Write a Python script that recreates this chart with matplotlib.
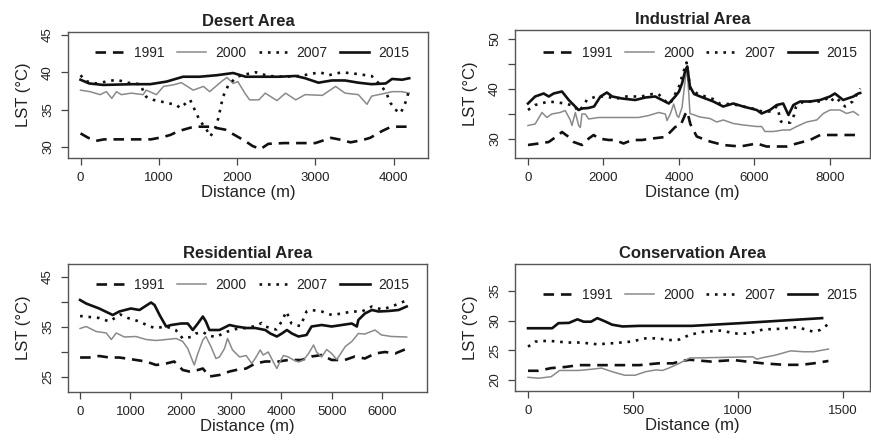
import matplotlib
matplotlib.use("Agg")
import matplotlib.pyplot as plt

plt.rcParams['font.family'] = ['Liberation Sans', 'DejaVu Sans']

# ---------------- data ----------------
years = ["1991", "2000", "2007", "2015"]

# Desert Area
D91_d = [0,100,200,300,500,700,900,1050,1150,1250,1350,1450,1650,1850,2000,2100,2200,2300,2400,2600,2800,3000,3200,3300,3450,3600,3700,3850,3950,4050,4200]
D91_t = [31.8,31.2,30.8,31.0,31.0,31.0,31.0,31.3,31.6,32.1,32.4,32.7,32.7,32.3,31.4,30.8,30.1,29.7,30.4,30.5,30.5,30.5,31.2,31.0,30.6,30.9,31.2,32.1,32.6,32.7,32.7]
D00_d = [0,120,250,330,400,460,520,650,800,840,970,1060,1180,1290,1440,1570,1650,1800,1870,1950,2010,2100,2160,2280,2360,2510,2620,2750,2870,3090,3260,3380,3550,3660,3720,3900,3980,4100,4200]
D00_t = [37.6,37.4,37.0,37.4,36.5,37.4,37.0,37.2,37.0,37.6,37.0,38.1,38.3,38.6,37.6,38.1,37.4,38.75,39.3,38.5,38.75,37.2,36.3,36.3,37.2,36.2,37.2,36.3,37.0,36.9,38.1,37.2,37.0,35.7,36.8,37.2,37.4,37.4,37.2]
D07_d = [0,70,200,460,600,760,840,930,1060,1230,1270,1400,1520,1610,1660,1720,1760,1820,1890,2000,2100,2240,2400,2600,2800,3060,3170,3340,3510,3720,3830,3900,3960,4020,4090,4150,4200]
D07_t = [39.6,38.8,38.5,39.0,38.6,38.4,36.7,36.3,36.0,35.6,35.2,36.3,33.6,32.3,31.4,32.5,33.8,36.7,38.3,39.4,39.7,40.0,39.5,39.4,39.5,40.0,39.6,40.0,39.8,39.5,38.3,37.4,35.9,35.0,34.5,35.9,37.6]
D15_d = [0,110,290,670,890,1100,1310,1520,1740,1950,2110,2530,2750,2870,3040,3210,3380,3550,3720,3900,3980,4110,4200]
D15_t = [39.0,38.5,38.3,38.4,38.4,38.75,39.4,39.4,39.6,39.9,39.4,39.4,39.5,39.2,38.6,38.9,38.9,38.6,38.4,38.5,39.1,39.0,39.2]

# Industrial Area
I91_d = [0,280,550,810,900,1080,1210,1430,1610,1740,1870,2140,2310,2530,2760,3020,3290,3640,3900,4040,4170,4220,4300,4470,4820,5170,5620,6060,6320,6590,6850,7120,7470,7740,7910,8260,8800]
I91_t = [28.8,29.1,29.4,30.8,31.4,30.4,29.4,28.8,30.1,30.8,30.1,29.8,29.8,29.1,29.8,29.8,30.1,30.4,32.4,32.7,35.0,35.5,33.0,30.5,29.5,28.8,28.5,29.1,28.5,28.5,28.5,29.1,29.8,30.8,30.8,30.8,30.8]
I00_d = [0,190,370,500,630,850,985,1120,1165,1254,1342,1386,1430,1518,1607,1872,2225,2578,2931,3196,3461,3638,3682,3770,3859,3947,3991,4080,4168,4212,4260,4291,4556,4821,4998,5174,5439,5704,6057,6190,6278,6500,6764,6940,7117,7382,7647,7823,8000,8264,8441,8617,8750]
I00_t = [32.7,33.0,35.3,34.3,35.0,35.3,35.7,33.8,32.7,35.3,32.7,32.3,35.0,35.0,34.0,34.3,34.3,34.3,34.3,34.7,35.3,35.0,33.7,35.0,37.0,34.7,34.3,36.3,42.0,44.0,39.0,35.1,34.4,34.1,33.4,33.8,33.1,32.8,32.5,32.5,31.5,31.5,31.8,31.8,32.5,33.4,33.8,35.1,35.8,35.8,35.1,35.5,34.8]
I07_d = [0,190,550,1000,1250,1320,1400,1560,1800,2100,2300,2600,3000,3300,3450,3600,3700,3800,3900,4000,4100,4200,4300,4500,4700,4900,5100,5400,5700,6000,6200,6400,6600,6700,6800,6950,7050,7100,7300,7600,7800,8000,8100,8200,8400,8600,8800]
I07_t = [35.8,36.8,37.5,37.1,36.5,35.5,36.0,37.8,38.5,38.5,38.0,38.5,38.5,39.0,39.0,38.0,37.0,37.5,39.0,40.5,43.0,45.3,40.0,39.0,38.5,38.0,37.0,37.0,36.5,36.0,35.5,35.5,36.5,33.5,33.2,33.3,34.8,36.5,37.5,37.5,37.5,38.5,37.5,38.0,36.5,37.5,40.1]
I15_d = [0,190,415,550,680,900,1080,1210,1340,1430,1600,1750,1920,2090,2230,2490,2840,3110,3370,3550,3730,3900,4000,4080,4170,4220,4290,4400,4560,4910,5170,5440,5700,6060,6190,6410,6590,6760,6900,7030,7210,7470,7740,8000,8130,8350,8620,8750,8800]
I15_t = [37.1,38.5,39.1,38.5,39.1,39.5,37.8,36.8,35.8,36.1,36.2,36.5,38.5,39.3,38.5,38.1,37.8,38.3,38.5,37.8,37.1,38.5,39.5,41.1,43.8,44.5,40.5,39.0,38.5,37.5,36.5,37.1,36.5,35.8,35.1,35.8,36.8,37.1,34.8,36.8,37.5,37.5,37.8,38.5,39.1,37.8,38.5,39.1,39.2]

# Residential Area
R91_d = [0,180,380,580,780,1050,1310,1510,1710,1870,2040,2170,2340,2440,2570,2770,2970,3100,3300,3480,3680,3940,4140,4400,4600,4800,5000,5260,5460,5660,5860,6060,6260,6500]
R91_t = [28.9,28.9,29.2,28.9,28.9,28.5,28.1,27.4,27.7,28.1,26.4,26.1,26.4,26.7,25.1,25.4,26.1,26.4,26.7,27.7,28.1,28.1,28.4,28.4,29.1,29.4,28.4,28.4,29.1,28.7,29.7,30.0,29.7,30.7]
R00_d = [0,120,320,520,620,720,880,1110,1310,1510,1710,1910,2040,2140,2240,2270,2340,2440,2500,2600,2700,2770,2870,2930,3030,3170,3300,3410,3480,3580,3640,3740,3840,3910,3970,4040,4140,4240,4340,4440,4540,4640,4700,4800,4900,5000,5100,5200,5270,5400,5530,5660,5860,5990,6190,6490]
R00_t = [34.7,35.1,34.1,33.8,32.5,33.8,33.0,33.1,32.5,32.3,32.5,32.7,32.1,30.7,28.1,27.4,29.7,32.4,33.1,31.1,28.7,29.0,30.7,32.7,30.4,29.0,29.3,27.7,28.7,30.4,29.4,30.0,28.0,26.7,28.0,29.3,29.0,28.4,28.0,28.4,29.7,31.4,30.0,29.0,30.5,29.7,28.5,30.0,31.1,32.1,33.7,33.6,34.4,33.4,33.1,33.0]
R07_d = [0,190,380,580,800,950,1180,1380,1510,1710,1900,2040,2200,2300,2440,2550,2700,2900,3100,3300,3480,3610,3680,3780,3900,4000,4100,4200,4270,4380,4500,4600,4800,5000,5200,5400,5600,5800,6000,6190,6390,6520]
R07_t = [37.2,37.0,36.8,36.1,37.5,36.8,36.1,35.1,34.8,35.1,34.4,32.7,33.0,33.7,34.0,33.3,33.0,34.0,34.6,34.8,35.2,35.8,35.1,34.8,34.5,36.0,38.1,35.7,35.4,35.2,38.1,38.4,38.1,37.4,37.7,38.1,38.1,39.1,38.5,39.1,39.9,40.5]
R15_d = [0,120,380,650,780,1010,1180,1410,1480,1580,1710,1810,2010,2140,2240,2340,2440,2500,2570,2770,2970,3100,3300,3480,3680,3780,3910,4010,4110,4210,4340,4500,4600,4800,5000,5200,5400,5500,5530,5660,5800,5930,6130,6330,6490]
R15_t = [40.4,39.7,38.7,37.4,38.1,38.7,38.4,39.9,39.4,37.4,35.1,35.4,35.7,35.7,34.4,35.7,37.1,36.1,34.4,34.4,35.4,35.1,34.8,34.8,34.4,33.7,33.1,33.7,34.4,33.7,33.1,33.4,35.1,35.4,35.1,35.4,35.7,35.1,36.4,37.7,38.4,38.1,38.2,38.4,39.1]

# Conservation Area
C91_d = [0,50,110,180,240,400,530,620,690,730,770,870,980,1040,1120,1220,1300,1360,1430]
C91_t = [21.55,21.55,22.0,22.2,22.5,22.5,22.5,22.8,22.8,23.2,23.4,23.1,23.35,23.1,22.8,22.55,22.55,22.8,23.2]
C00_d = [0,50,110,150,240,300,350,400,460,510,560,610,640,670,720,770,930,1070,1090,1110,1180,1250,1310,1360,1430]
C00_t = [20.45,20.3,20.55,21.6,21.6,21.8,22.0,21.4,20.8,20.8,21.4,21.7,21.6,22.0,22.8,23.7,23.8,23.9,23.5,23.7,24.2,24.9,24.75,24.75,25.2]
C07_d = [0,35,95,140,190,250,330,410,490,560,620,670,720,770,835,915,995,1050,1120,1200,1280,1320,1360,1390,1430]
C07_t = [25.6,26.45,26.6,26.45,26.3,26.3,26.0,26.2,26.45,27.0,27.0,26.7,26.8,27.6,28.1,28.3,27.8,27.8,28.5,28.6,28.9,28.5,28.1,28.4,29.4]
C15_d = [0,115,145,195,235,265,300,330,370,400,450,530,640,780,1010,1170,1400]
C15_t = [28.7,28.7,29.55,29.6,30.2,29.8,29.8,30.4,29.8,29.3,29.0,29.1,29.1,29.1,29.55,29.9,30.4]

titles = ["Desert Area", "Industrial Area", "Residential Area", "Conservation Area"]
x_ticks = [[0, 1000, 2000, 3000, 4000], [0, 2000, 4000, 6000, 8000],
           [0, 1000, 2000, 3000, 4000, 5000, 6000], [0, 500, 1000, 1500]]
y_ticks = [[30, 35, 40, 45], [30, 35, 40, 45, 50], [25, 30, 35, 40, 45], [20, 25, 30, 35]]
y_labels = [[30, 35, 40, 45], [30, 40, 50], [25, 35, 45], [20, 25, 30, 35]]

# ---------------- layout ----------------
W, H = 871, 445
fig = plt.figure(figsize=(W / 100, H / 100), dpi=100)

def rect(l, t, r, b):
    return [l / W, 1 - b / H, (r - l) / W, (b - t) / H]

panels = [
    dict(rect=rect(68, 32, 428, 158), xlim=(-160, 4440), ylim=(28.5, 45.4), leg=(0.5125, 0.836),
         series=[(D91_d, D91_t), (D00_d, D00_t), (D07_d, D07_t), (D15_d, D15_t)]),
    dict(rect=rect(515, 30, 870, 158), xlim=(-344, 9060), ylim=(26.2, 51.8), leg=(0.5225, 0.82),
         series=[(I91_d, I91_t), (I00_d, I00_t), (I07_d, I07_t), (I15_d, I15_t)]),
    dict(rect=rect(68, 264, 427, 392), xlim=(-240, 6894), ylim=(22.0, 47.6), leg=(0.514, 0.836),
         series=[(R91_d, R91_t), (R00_d, R00_t), (R07_d, R07_t), (R15_d, R15_t)]),
    dict(rect=rect(515, 264, 870, 391), xlim=(-62, 1628), ylim=(18.15, 39.5), leg=(0.5225, 0.756),
         series=[(C91_d, C91_t), (C00_d, C00_t), (C07_d, C07_t), (C15_d, C15_t)]),
]

styles = [
    dict(color="#111111", lw=1.9, ls=(0, (4, 2.6))),
    dict(color="#8a8a8a", lw=1.1, ls="-"),
    dict(color="#111111", lw=1.9, ls=(0, (1, 2.2))),
    dict(color="#111111", lw=1.9, ls="-"),
]

txt = "#222222"
for i, p in enumerate(panels):
    ax = fig.add_axes(p["rect"])
    for (d, t), st, yr in zip(p["series"], styles, years):
        ax.plot(d, t, label=yr, **st)
    ax.set_xlim(*p["xlim"])
    ax.set_ylim(*p["ylim"])
    ax.set_xticks(x_ticks[i])
    ax.set_xticklabels([str(v) for v in x_ticks[i]])
    ax.set_yticks(y_ticks[i])
    ax.set_yticklabels([str(v) if v in y_labels[i] else "" for v in y_ticks[i]],
                       rotation=90, va="center")
    ax.tick_params(direction="out", length=5, width=0.9, colors="#444444",
                   labelcolor=txt, labelsize=9.5, pad=5)
    for s in ax.spines.values():
        s.set_color("#555555")
        s.set_linewidth(1.0)
    ax.set_title(titles[i], fontsize=12, fontweight="bold", color=txt, pad=4)
    ax.set_xlabel("Distance (m)", fontsize=12, color=txt, labelpad=1)
    ax.set_ylabel("LST (°C)", fontsize=12, color=txt, labelpad=8)
    ax.legend(loc="center", ncol=4, frameon=False, fontsize=10,
              handlelength=2.1, handletextpad=0.65, columnspacing=0.9,
              borderpad=0, borderaxespad=0,
              bbox_to_anchor=p["leg"], labelcolor=txt)

fig.savefig("out.png", dpi=100)
